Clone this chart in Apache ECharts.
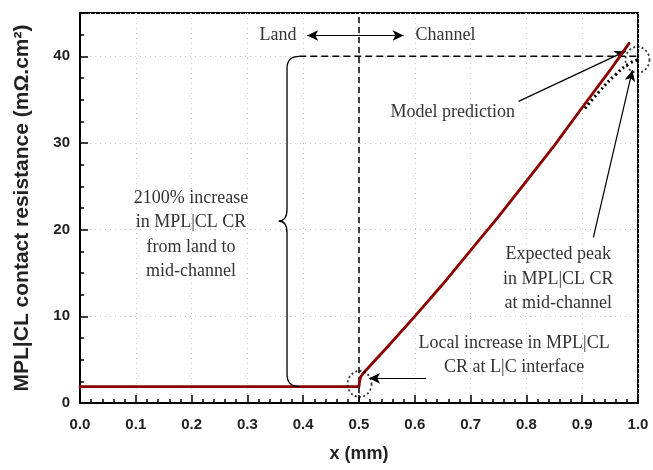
<!DOCTYPE html>
<html><head><meta charset="utf-8">
<script src="https://cdn.jsdelivr.net/npm/echarts@6/dist/echarts.min.js"></script>
<style>html,body{margin:0;padding:0;background:#fff}#c{width:653px;height:470px}</style>
</head><body><div id="c"></div>
<script>
// Model prediction (red curve)
const modelX = [0, 0.1, 0.2, 0.3, 0.4, 0.5, 0.501, 0.503, 0.506, 0.51, 0.52, 0.55, 0.6, 0.65, 0.7, 0.75, 0.8, 0.85, 0.9, 0.95, 0.984];
const modelY = [1.9, 1.9, 1.9, 1.9, 1.9, 1.9, 2.5, 3.0, 3.3, 3.6, 4.3, 6.4, 10.0, 13.7, 17.6, 21.5, 25.6, 29.7, 34.1, 38.4, 41.5];
// Expected peak (dotted black curve)
const peakX = [0.905, 0.93, 0.96, 0.985, 1.0];
const peakY = [34.0, 35.9, 37.9, 39.2, 39.6];
// Tick labels
const xTicks = ['0.0','0.1','0.2','0.3','0.4','0.5','0.6','0.7','0.8','0.9','1.0'];
const yTicks = ['0','10','20','30','40'];
// Reference lines
const interfaceX = 0.5;
const peakLevel = 40;
const peakLineX = [0.393, 1.0];
// Annotation texts [x, y, text]
const notes = [
  [0.355, 42.4, 'Land'],
  [0.655, 42.4, 'Channel'],
  [0.668, 33.6, 'Model prediction'],
  [0.199, 19.4, '2100% increase\nin MPL|CL CR\nfrom land to\nmid-channel'],
  [0.857, 14.3, 'Expected peak\nin MPL|CL CR\nat mid-channel'],
  [0.778, 5.5, 'Local increase in MPL|CL\nCR at L|C interface']
];
// Arrows [x1,y1,x2,y2,double]
const arrows = [
  [0.407, 42.4, 0.58, 42.4, true],
  [0.786, 34.8, 0.978, 40.6, false],
  [0.92, 19.1, 0.99, 38.4, false],
  [0.62, 2.85, 0.518, 2.85, false]
];
// Dotted circles
const circles = [[0.501, 2.2], [0.999, 39.6]];
// Brace: [xEnd, xSpine, xTip, yTop, yMid, yBottom]
const brace = [0.393, 0.371, 0.356, 40, 21, 1.9];

const chart = echarts.init(document.getElementById('c'), null, {renderer:'canvas'});
const serif = '"Liberation Serif", "Times New Roman", serif';
const sans = '"Liberation Sans", Arial, sans-serif';
const tickFont = {color:'#222', fontFamily:sans, fontWeight:'bold', fontSize:15};

chart.setOption({
  animation:false,
  grid:{left:80, right:15, top:13, bottom:67, show:true, borderColor:'#000', borderWidth:2},
  xAxis:{type:'value', min:0, max:1, interval:0.1,
    name:'x (mm)', nameLocation:'middle', nameGap:42,
    nameTextStyle:{color:'#222', fontFamily:sans, fontWeight:'bold', fontSize:18},
    axisLine:{lineStyle:{color:'#000', width:2}},
    axisTick:{inside:true, length:8, lineStyle:{color:'#000', width:1.5}},
    minorTick:{show:true, splitNumber:5, length:4, lineStyle:{color:'#000', width:1.5}},
    axisLabel:Object.assign({margin:14, formatter:v=>xTicks[Math.round(v*10)]}, tickFont),
    splitLine:{show:true, lineStyle:{color:'#c4c4c4', type:[1,4], width:1}}
  },
  yAxis:{type:'value', min:0, max:45, interval:10,
    name:'MPL|CL contact resistance (mΩ.cm²)', nameLocation:'middle', nameGap:47,
    nameTextStyle:{color:'#222', fontFamily:sans, fontWeight:'bold', fontSize:21},
    axisLine:{lineStyle:{color:'#000', width:2}},
    axisTick:{inside:true, length:8, lineStyle:{color:'#000', width:1.5}},
    minorTick:{show:true, splitNumber:4, length:4, lineStyle:{color:'#000', width:1.5}},
    axisLabel:Object.assign({margin:10, formatter:v=>{const i=yTicks.indexOf(String(v)); return i>=0?yTicks[i]:'';}}, tickFont),
    splitLine:{show:true, lineStyle:{color:'#c4c4c4', type:[1,4], width:1}}
  },
  series:[
    {type:'line', data:[[interfaceX,0],[interfaceX,45]], symbol:'none', silent:true,
     lineStyle:{color:'#000', width:1.5, type:[6,4]}},
    {type:'line', data:peakLineX.map(x=>[x,peakLevel]), symbol:'none', silent:true,
     lineStyle:{color:'#000', width:1.5, type:[7,4]}},
    {type:'line', data:modelX.map((x,i)=>[x,modelY[i]]), symbol:'none', z:5,
     lineStyle:{color:'#8b0000', width:2.8, join:'round', cap:'round'}},
    {type:'line', data:peakX.map((x,i)=>[x,peakY[i]]), symbol:'none', z:6, smooth:true,
     lineStyle:{color:'#000', width:3, type:[2,3]}},
    {type:'scatter', data:circles, symbol:'circle', symbolSize:[24,26], z:7, silent:true,
     itemStyle:{color:'rgba(0,0,0,0)', borderColor:'#000', borderWidth:1.8, borderType:[2,2.5]}},
    {type:'line', data:[], symbol:'none', silent:true,
     markLine:{silent:true, animation:false, symbolSize:[8,11], label:{show:false},
       lineStyle:{color:'#000', width:1.2, type:'solid'},
       data:arrows.map(a=>[{coord:[a[0],a[1]], symbol:a[4]?'arrow':'none'},{coord:[a[2],a[3]], symbol:'arrow'}])}},
    {type:'custom', coordinateSystem:'cartesian2d', data:[[0,0]], clip:false, silent:true, z:8,
     renderItem:function(params, api){
       const top = api.coord([brace[0], brace[3]]);
       const bot = api.coord([brace[0], brace[5]]);
       const xs = api.coord([brace[1], brace[4]])[0];
       const tip = api.coord([brace[2], brace[4]]);
       const r = 12;
       const d = `M${top[0]} ${top[1]} Q${xs} ${top[1]} ${xs} ${top[1]+r} L${xs} ${tip[1]-r} Q${xs} ${tip[1]} ${tip[0]} ${tip[1]} Q${xs} ${tip[1]} ${xs} ${tip[1]+r} L${xs} ${bot[1]-r} Q${xs} ${bot[1]} ${bot[0]} ${bot[1]}`;
       const children = [{type:'path', shape:{pathData:d}, style:{stroke:'#000', lineWidth:1.3, fill:null}}];
       notes.forEach(n=>{
         const p = api.coord([n[0], n[1]]);
         children.push({type:'text', x:p[0], y:p[1], style:{text:n[2], font:'18px '+serif, fill:'#333', align:'center', verticalAlign:'middle', lineHeight:24.5}});
       });
       return {type:'group', children:children};
     }}
  ]
});
</script></body></html>
